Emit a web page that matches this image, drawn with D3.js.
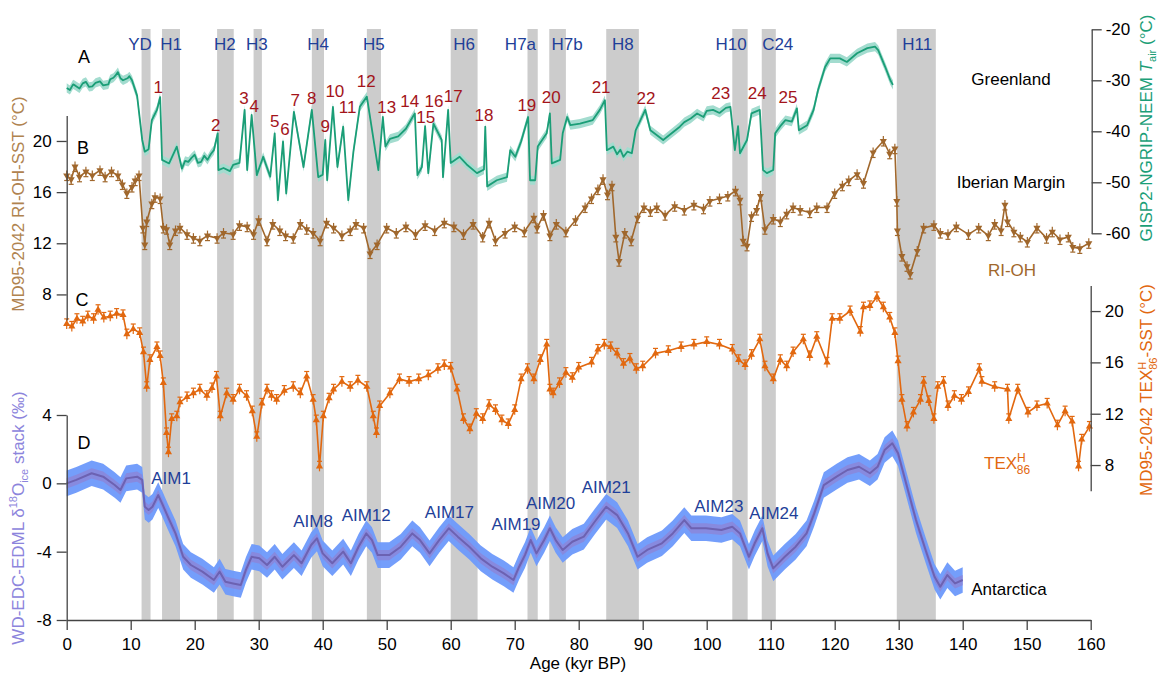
<!DOCTYPE html>
<html>
<head>
<meta charset="utf-8">
<script src="https://d3js.org/d3.v7.min.js"></script>
<style>
  body { margin: 0; background: #fff; }
  svg { font-family: "Liberation Sans", Arial, sans-serif; }
</style>
</head>
<body>
<svg id="svg" width="1161" height="680"></svg>
<script>
// ---- data ----
// event bands (kyr BP)
var eventNames = ["YD","H1","H2","H3","H4","H5","H6","H7a","H7b","H8","H10","C24","H11"];
var eventStart = [11.7,14.9,23.5,29.2,38.3,46.9,60.0,72.0,75.4,84.3,104.0,108.6,129.7];
var eventEnd   = [13.1,17.7,26.1,30.5,40.2,49.1,64.2,73.6,78.0,89.4,106.4,110.8,135.8];
var eventLabelAge = [11.45,16.3,24.7,29.7,39.3,48.0,62.1,70.9,78.2,86.9,103.8,111.1,132.9];

// A: GISP2-NGRIP-NEEM Tair (degC)
var ageA = [0,0.5,1,1.3,2,2.5,3,3.5,4,4.5,5.2,5.7,6.5,6.8,7.3,7.6,8,8.4,8.8,9.5,9.8,10.2,11,11.8,12.2,12.8,13.3,14.1,14.6,14.9,16,17.2,18,18.5,19,19.5,20,20.5,21,21.5,22,22.5,23,23.6,23.7,24.5,25.5,26,27,27.8,28.2,28.9,29.7,30.7,31.8,32.5,33,33.8,34.3,35.5,37,38.3,39.3,40,40.4,40.7,41.6,42.3,43.2,44,44.8,45.8,46.9,48.2,48.7,49.4,49.8,50.5,51.8,53,54.1,54.4,54.8,55.5,56,56.5,57.3,58.6,58.8,59.6,60,61.4,62.5,64.1,65.2,65.4,65.7,67.2,68.8,69.3,70.1,71,72.1,72.4,73.2,73.6,75,75.5,75.8,77.1,77.5,78.2,78.7,80.2,82.2,83.3,84.1,84.4,85.4,86,86.5,87,87.6,88.3,88.9,90.4,91.2,93.2,95.8,96.5,97.5,98.5,99.5,100,101,102,103,103.7,104.4,104.9,105.2,106.3,107,108.3,108.8,109.4,110.4,110.7,111.5,112.3,113.3,114.1,114.4,115.7,116.7,117.4,118.5,119.3,120.8,121.9,123.5,125.1,126.3,126.8,127.9,128.7,129.1];
var tempA = [-31.5,-31.9,-30.8,-31.0,-31.6,-30.6,-30.3,-31.3,-31.2,-30.5,-30.2,-31.0,-30.8,-29.8,-29.5,-29.1,-28.4,-29.6,-30.0,-29.6,-29.2,-30.0,-33,-41.7,-44,-43.5,-37.8,-35.8,-33.3,-45.6,-46.3,-43,-47.3,-45.8,-46,-45.2,-44.6,-46.2,-46,-44.8,-45.6,-44.5,-43.7,-40.4,-47.6,-47.2,-47.8,-46.6,-46.2,-35.8,-47.6,-36.8,-48.6,-45,-48.9,-40.4,-53.5,-42,-52.2,-36.2,-47,-35.8,-49,-48.5,-41.7,-49.6,-35.2,-47,-39.1,-53.5,-44,-35.2,-33.2,-43.7,-47.6,-37.2,-43,-41.5,-41,-39.5,-37.1,-36.5,-48.6,-47,-39,-48.2,-38.5,-41.7,-49,-35.8,-46.2,-45,-46.5,-48.2,-47.5,-39.1,-50.8,-49.6,-49,-43.7,-45,-42,-37.2,-49.6,-49.6,-43,-40.4,-36.5,-46.3,-45.6,-40.4,-37.2,-38.8,-38.5,-37.8,-35.8,-33.9,-43.7,-43,-44.5,-43.6,-45,-44,-44.3,-39.8,-35.8,-39.8,-41.7,-39.1,-38.2,-37.5,-36.5,-37.2,-36.0,-35.8,-36.4,-35.4,-35.2,-43.7,-39,-44.3,-41.7,-36.5,-35.8,-47.6,-48.2,-47.6,-40.4,-39,-37.8,-38.1,-35.5,-39.8,-38.8,-35.8,-31.9,-27.4,-25.7,-25.7,-26.4,-24.7,-23.7,-23.4,-24.1,-27.4,-30,-30.9];

// B: MD95-2042 RI-OH SST (degC)
var ageB = [0,0.7,1.3,2,3,4,5.2,6,7,8,8.7,9.4,10.2,10.7,11.3,11.9,12.2,12.5,13.3,13.8,14.6,15.1,15.6,16.1,17,17.7,18.8,19.8,20.8,22,23.5,24.5,26,27,28.2,29.2,30,31.3,32.2,33.3,34.2,35.4,36.5,37.5,38.5,39.6,40.6,41.7,43,44.3,45.2,46.4,47.4,48.5,50,51.5,53,54.5,56,57.5,59,60.5,62,63.5,65,66,67,68.5,70,71.5,73,73.5,74.5,75.5,76.5,78,79.5,81,82,83,83.8,84.5,85.2,85.8,86.3,87.2,88.2,89.2,90.2,91.2,92.2,93.5,95,96.5,98,99.5,100.5,102,103.3,104.5,105.2,105.7,106.3,107,107.8,108.4,109.1,110.4,111.5,112.5,113.5,114.6,116.1,117.2,118.8,120,121.2,122.2,123.5,124.5,126,127.6,128.6,129.4,129.7,129.8,130.5,131.3,131.8,132.9,133.9,135.5,136.5,137.7,139,140.9,142.5,144,145,146,146.6,147,148,149,150.1,151.6,153.1,154,155.2,156.5,157.2,158.3,159.7];
var sstB = [17.3,17.0,18.0,17.2,17.6,17.3,17.7,17.2,17.6,17.3,16.6,15.9,16.4,16.9,17.3,13.2,11.9,13.7,15.1,15.6,15.5,13.2,13.1,11.9,13.0,13.2,12.7,12.4,12.2,12.6,12.4,12.8,12.7,13.4,13.3,12.7,13.8,12.2,13.5,13.0,12.6,12.4,13.5,13.1,12.8,12.2,13.6,13.2,12.6,13.0,13.5,13.2,11.2,11.9,13.2,12.8,13.3,12.7,13.4,13.0,13.6,13.3,12.7,13.5,12.5,13.6,12.2,12.8,13.3,12.9,14.0,13.2,14.2,12.6,13.5,12.9,13.8,14.8,15.5,16.2,17.0,15.8,16.5,12.5,10.6,12.8,12.2,14.0,14.8,14.5,14.8,14.2,14.9,14.6,15.0,14.7,15.3,15.5,15.7,16.1,15.4,12.2,11.8,14.1,14.6,15.7,13.1,13.9,13.7,14.3,14.8,14.6,14.4,14.8,14.8,15.9,16.5,16.9,17.4,16.7,19.1,20.0,19.0,19.4,15.3,13.0,11.0,10.2,9.6,11.4,13.2,13.4,12.8,12.7,13.3,12.7,13.2,12.6,13.5,13.0,15.0,13.7,12.9,12.5,12.1,13.2,12.4,12.9,12.3,12.5,11.7,11.6,12.0];

// C: MD95-2042 TEX86H SST (degC)
var ageC = [0,0.8,1.6,2.5,3.3,4.2,4.9,5.8,6.8,7.8,8.8,9.4,10.4,11.4,12,12.5,13,14.1,14.6,15.1,15.6,15.9,16.4,17.2,17.7,18.8,19.8,20.8,21.9,22.7,23.4,24,25,26,27,28.1,29,29.7,30.5,31.3,32,32.8,34,35.4,36.5,37.5,38.5,39,39.5,40.1,41,41.7,43,44.3,45.5,46.9,47.9,48.4,48.9,50.5,52,53.5,55,56.5,58,59,60,61,62,63,64,65,66,67,68,69,70,71,72,73,74,75,75.5,76,77,78,79,80,82,83,84,85,86,87,88,89,90,92,94,96,98,100,102,104,105,106,107,108.3,109.1,110.4,111.5,112.5,113.5,115.1,116.1,117.2,118.8,119.6,120.8,122.4,124,124.5,125.5,126.6,127.6,128.6,129.4,129.9,130.5,131.3,132.3,133.4,133.9,134.7,135.5,136.1,137,137.7,138.7,139.8,140.9,142.6,143,145,147,147.2,148.6,150.2,151.6,153.2,154.8,156,157.1,158.1,158.6,159.8];
var sstC = [19.0,18.8,19.4,19.2,19.6,19.4,20.1,19.5,19.6,19.8,19.7,18.2,18.6,18.3,16.8,14.1,16.2,17.2,16.5,14.4,10.5,9.0,11.6,11.8,12.9,13.3,13.6,13.9,13.4,14.0,14.9,11.8,13.6,13.1,13.9,13.4,12.2,10.2,12.8,13.9,13.4,13.1,13.8,14.1,13.6,14.9,13.1,11.5,7.9,11.8,13.2,13.9,14.5,14.1,14.6,14.1,11.8,10.5,12.6,13.6,14.7,14.5,14.7,15.0,15.5,15.8,15.6,13.9,11.6,10.8,12.0,11.6,12.7,12.3,11.5,11.2,12.3,14.7,15.5,14.7,16.2,17.4,13.9,13.6,14.4,15.2,14.8,15.6,16.0,17.0,17.4,17.2,16.7,15.9,16.3,15.5,15.7,16.7,16.9,17.2,17.4,17.6,17.4,17.0,16.2,15.8,16.6,17.8,15.7,14.7,16.2,15.7,16.8,17.8,16.5,18.0,16.0,19.4,19.4,20.0,18.4,20.3,20.4,21.1,20.3,19.5,18.3,16.1,13.1,11.0,12.1,13.1,14.5,13.0,11.6,14.1,14.5,12.6,13.4,13.1,13.7,15.5,14.5,14.1,13.9,11.6,13.9,12.1,12.6,12.8,11.1,12.2,11.4,7.9,10.0,11.0];

// D: WD-EDC-EDML d18O ice stack (permil)
var ageD = [0,1.5,3.9,5.7,7.5,8.4,9.3,11,11.8,12.2,12.8,13.4,14.3,14.9,15.8,17,18.2,19.4,21.2,23,23.9,24.8,26,27.2,28,28.9,30.1,31.3,32.5,33.7,35.5,36.7,38.2,39.1,40,41.5,43.2,44.4,45.6,46.8,47.7,48.6,50.4,52.2,54,55.2,56.7,58.2,59.7,61.1,62.9,64.7,66.5,68.3,69.8,70.7,71.6,72.5,73.4,74.6,75.5,76.4,77.5,79,80.8,82.5,84.3,86,87.7,89.2,90.7,93,94.7,96.5,97.6,99.9,102.3,104,105.2,106.6,107.5,108.7,109.5,110.4,112.2,113.9,115.6,116.8,118.3,120.3,122,123.8,125.5,126.7,127.8,129,129.9,131.3,132.7,134.2,135.6,136.5,137.6,138.8,140];
var d18oD = [0.0,0.2,0.59,0.39,-0.1,-0.39,0.29,0.39,0.2,-1.37,-1.56,-1.37,-0.69,-1.17,-1.95,-2.93,-4.3,-4.78,-5.17,-5.66,-5.17,-5.76,-5.86,-5.95,-5.07,-4.3,-4.39,-4.78,-4.3,-4.88,-4.2,-4.68,-3.61,-3.22,-4.1,-4.68,-4.0,-4.68,-3.71,-2.93,-3.32,-4.2,-4.2,-3.71,-2.93,-3.32,-4.1,-3.32,-2.63,-3.12,-3.71,-4.39,-4.88,-5.27,-5.66,-4.88,-4.2,-3.32,-4.1,-3.32,-2.63,-3.32,-3.9,-3.42,-3.12,-2.25,-1.37,-1.86,-2.93,-4.3,-3.9,-3.51,-2.93,-2.15,-2.63,-2.63,-2.73,-2.54,-2.93,-4.3,-3.51,-2.63,-4.1,-4.98,-4.3,-3.71,-2.93,-1.76,-0.1,0.39,0.78,0.97,0.59,0.97,1.95,2.34,1.76,-0.2,-2.15,-3.9,-5.47,-6.05,-5.37,-5.86,-5.66];

// Dansgaard-Oeschger numbers and AIM labels (age, value on own axis)
var doNames = ["1","2","3","4","5","6","7","8","9","10","11","12","13","14","15","16","17","18","19","20","21","22","23","24","25"];
var doAge = [14.3,23.3,27.7,29.3,32.5,34.1,35.7,38.3,40.4,41.9,43.9,46.8,50.0,53.6,56.1,57.4,60.4,65.2,71.9,75.7,83.5,90.5,102.2,107.9,112.7];
var doTemp = [-31.3,-38.8,-33.5,-35.0,-38.0,-39.6,-33.9,-33.5,-39.0,-32.1,-35.2,-30.1,-35.2,-34.1,-37.2,-34.1,-33.1,-36.8,-34.9,-33.3,-31.3,-33.5,-32.5,-32.5,-33.3];
var aimNames = ["AIM1","AIM8","AIM12","AIM17","AIM19","AIM20","AIM21","AIM23","AIM24"];
var aimAge = [16.3,38.5,46.8,59.8,70.2,75.6,84.3,101.9,110.5];
var aimVal = [0.3,-2.21,-1.86,-1.7,-2.4,-1.15,-0.22,-1.35,-1.74];

var xTicks = d3.range(0, 161, 10);
var aTicks = [-60,-50,-40,-30,-20];
var bTicks = [8,12,16,20];
var cTicks = [8,12,16,20];
var dTicks = [-8,-4,0,4];

// ---- drawing ----
var svg = d3.select("#svg");
var colA = "#1b9e77", colAshade = "#a3dccf";
var colB = "#a0672c", colBtext = "#b0834f";
var colC = "#e2680f";
var colDband = "#6d99fb", colDline = "#6c62b2", colDtext = "#8c84dc";
var colEvent = "#1f3f99", colDO = "#a3141a";
var fs = 17;

var x = d3.scaleLinear().domain([0,160]).range([66.7,1090.7]);
var yA = d3.scaleLinear().domain([-60,-20]).range([233.3,29.3]);
var yB = d3.scaleLinear().domain([6,22]).range([320,115.4]);
var yC = d3.scaleLinear().domain([6,22]).range([490.7,285.4]);
var yD = d3.scaleLinear().domain([-8,4]).range([620,415]);

// grey event bands
svg.append("g").selectAll("rect").data(eventNames).enter().append("rect")
  .attr("x", function(d,i){ return x(eventStart[i]); })
  .attr("width", function(d,i){ return x(eventEnd[i]) - x(eventStart[i]); })
  .attr("y", 29).attr("height", 620-29)
  .attr("fill", "#cccccc");

svg.append("g").selectAll("text").data(eventNames).enter().append("text")
  .attr("x", function(d,i){ return x(eventLabelAge[i]); })
  .attr("y", 50).attr("text-anchor","middle")
  .attr("font-size", fs).attr("fill", colEvent)
  .text(function(d){ return d; });

function series(ages, vals){
  return ages.map(function(a,i){ return [a, vals[i]]; });
}

// A: Greenland
var dataA = series(ageA, tempA);
svg.append("path").datum(dataA)
  .attr("d", d3.area().x(function(d){return x(d[0]);})
      .y0(function(d){return yA(d[1]-0.9);}).y1(function(d){return yA(d[1]+0.9);}))
  .attr("fill", colAshade);
svg.append("path").datum(dataA)
  .attr("d", d3.line().x(function(d){return x(d[0]);}).y(function(d){return yA(d[1]);}))
  .attr("fill","none").attr("stroke", colA).attr("stroke-width", 1.8).attr("stroke-linejoin","round");

// B and C with markers + small error bars
function markedSeries(data, yS, col, up){
  var g = svg.append("g");
  g.append("path").datum(data)
    .attr("d", d3.line().x(function(d){return x(d[0]);}).y(function(d){return yS(d[1]);}))
    .attr("fill","none").attr("stroke", col).attr("stroke-width", 1.6).attr("stroke-linejoin","round");
  var eb = g.selectAll("g.eb").data(data).enter().append("g")
    .attr("transform", function(d){ return "translate(" + x(d[0]) + "," + yS(d[1]) + ")"; });
  eb.append("line").attr("x1",0).attr("x2",0).attr("y1",-5).attr("y2",5)
    .attr("stroke", col).attr("stroke-width", 1.2);
  eb.append("line").attr("x1",-2.5).attr("x2",2.5).attr("y1", up ? -5 : 5).attr("y2", up ? -5 : 5)
    .attr("stroke", col).attr("stroke-width", 1.2);
  eb.append("path").attr("d", d3.symbol().type(d3.symbolTriangle).size(22))
    .attr("transform", up ? "" : "rotate(180)")
    .attr("fill", col);
}
markedSeries(series(ageB, sstB), yB, colB, false);
markedSeries(series(ageC, sstC), yC, colC, true);

// D: Antarctica
var dataD = series(ageD, d18oD);
svg.append("path").datum(dataD)
  .attr("d", d3.area().x(function(d){return x(d[0]);})
      .y0(function(d){return yD(d[1]-0.75);}).y1(function(d){return yD(d[1]+0.75);}))
  .attr("fill", colDband).attr("opacity", 0.95);
svg.append("path").datum(dataD)
  .attr("d", d3.area().x(function(d){return x(d[0]);})
      .y0(function(d){return yD(d[1]-0.3);}).y1(function(d){return yD(d[1]+0.3);}))
  .attr("fill", "#8c84d8").attr("opacity", 0.8);
svg.append("path").datum(dataD)
  .attr("d", d3.line().x(function(d){return x(d[0]);}).y(function(d){return yD(d[1]);}))
  .attr("fill","none").attr("stroke", colDline).attr("stroke-width", 2).attr("stroke-linejoin","round");

// axes
function styleAxis(g){
  g.selectAll("path,line").attr("stroke","#444").attr("stroke-width",1.3);
  g.selectAll("text").attr("font-size", fs).attr("fill","#000")
    .attr("font-family","Liberation Sans, Arial, sans-serif");
}
var fmt = function(d){ return String(d).replace("\u2212","-"); };
svg.append("g").attr("transform","translate(0,620)")
  .call(d3.axisBottom(x).tickValues(xTicks).tickSize(10).tickSizeOuter(0).tickPadding(8).tickFormat(fmt)).call(styleAxis);
svg.append("g").attr("transform","translate(66.7,0)")
  .call(d3.axisLeft(yB).tickValues(bTicks).tickSize(10).tickSizeOuter(0).tickPadding(5).tickFormat(fmt)).call(styleAxis);
svg.append("g").attr("transform","translate(66.7,0)")
  .call(d3.axisLeft(yD).tickValues(dTicks).tickSize(10).tickSizeOuter(0).tickPadding(5).tickFormat(fmt)).call(styleAxis);
svg.append("g").attr("transform","translate(1091.7,0)")
  .call(d3.axisRight(yA).tickValues(aTicks).tickSize(10).tickSizeOuter(0).tickPadding(4).tickFormat(fmt)).call(styleAxis);
svg.append("g").attr("transform","translate(1090.7,0)")
  .call(d3.axisRight(yC).tickValues(cTicks).tickSize(10).tickSizeOuter(0).tickPadding(4).tickFormat(fmt)).call(styleAxis);

svg.append("text").attr("x", 578).attr("y", 669).attr("text-anchor","middle")
  .attr("font-size", fs).text("Age (kyr BP)");

// axis titles
var tB = svg.append("text").attr("transform","translate(24,204) rotate(-90)")
  .attr("text-anchor","middle").attr("font-size", fs).attr("fill", colBtext)
  .text("MD95-2042 RI-OH-SST (\u00b0C)");

var tD = svg.append("text").attr("transform","translate(24,518) rotate(-90)")
  .attr("text-anchor","middle").attr("font-size", fs).attr("fill", colDtext);
tD.append("tspan").text("WD-EDC-EDML \u03b4");
tD.append("tspan").attr("font-size",11).attr("dy",-7).text("18");
tD.append("tspan").attr("dy",7).text("O");
tD.append("tspan").attr("font-size",11).attr("dy",4).text("ice");
tD.append("tspan").attr("dy",-4).text(" stack (\u2030)");

var tA = svg.append("text").attr("transform","translate(1152,128) rotate(-90)")
  .attr("text-anchor","middle").attr("font-size", fs).attr("fill", colA);
tA.append("tspan").text("GISP2-NGRIP-NEEM ");
tA.append("tspan").attr("font-style","italic").text("T");
tA.append("tspan").attr("font-size",11).attr("dy",4).text("air");
tA.append("tspan").attr("dy",-4).text(" (\u00b0C)");

var tC = svg.append("text").attr("transform","translate(1152,390) rotate(-90)")
  .attr("text-anchor","middle").attr("font-size", fs).attr("fill", colC);
tC.append("tspan").text("MD95-2042 TEX");
tC.append("tspan").attr("font-size",11).attr("dy",-6).text("H");
tC.append("tspan").attr("font-size",11).attr("dx",-8).attr("dy",11).text("86");
tC.append("tspan").attr("dy",-5).text("-SST (\u00b0C)");

// panel letters
var panels = [["A",84,63],["B",83,154],["C",82,306],["D",84,449]];
svg.append("g").selectAll("text").data(panels).enter().append("text")
  .attr("x", function(d){return d[1];}).attr("y", function(d){return d[2];})
  .attr("text-anchor","middle").attr("font-size", 18).text(function(d){return d[0];});

// region labels
function label(t, px, py, col){
  return svg.append("text").attr("x", px).attr("y", py).attr("text-anchor","middle")
    .attr("font-size", fs).attr("fill", col).text(t);
}
label("Greenland", 1011, 85, "#000");
label("Iberian Margin", 1011, 188, "#000");
label("RI-OH", 1012, 276, colB);
label("Antarctica", 1009, 595, "#000");
var tx = svg.append("text").attr("x", 984).attr("y", 469).attr("font-size", fs).attr("fill", colC);
tx.append("tspan").text("TEX");
tx.append("tspan").attr("font-size",12).attr("dy",-7).text("H");
tx.append("tspan").attr("font-size",12).attr("dx",-9).attr("dy",12).text("86");

// DO numbers
svg.append("g").selectAll("text").data(doNames).enter().append("text")
  .attr("x", function(d,i){ return x(doAge[i]); })
  .attr("y", function(d,i){ return yA(doTemp[i]) + 6; })
  .attr("text-anchor","middle").attr("font-size", fs).attr("fill", colDO)
  .text(function(d){ return d; });

// AIM labels
svg.append("g").selectAll("text").data(aimNames).enter().append("text")
  .attr("x", function(d,i){ return x(aimAge[i]); })
  .attr("y", function(d,i){ return yD(aimVal[i]) + 6; })
  .attr("text-anchor","middle").attr("font-size", fs).attr("fill", colEvent)
  .text(function(d){ return d; });
</script>
</body>
</html>
